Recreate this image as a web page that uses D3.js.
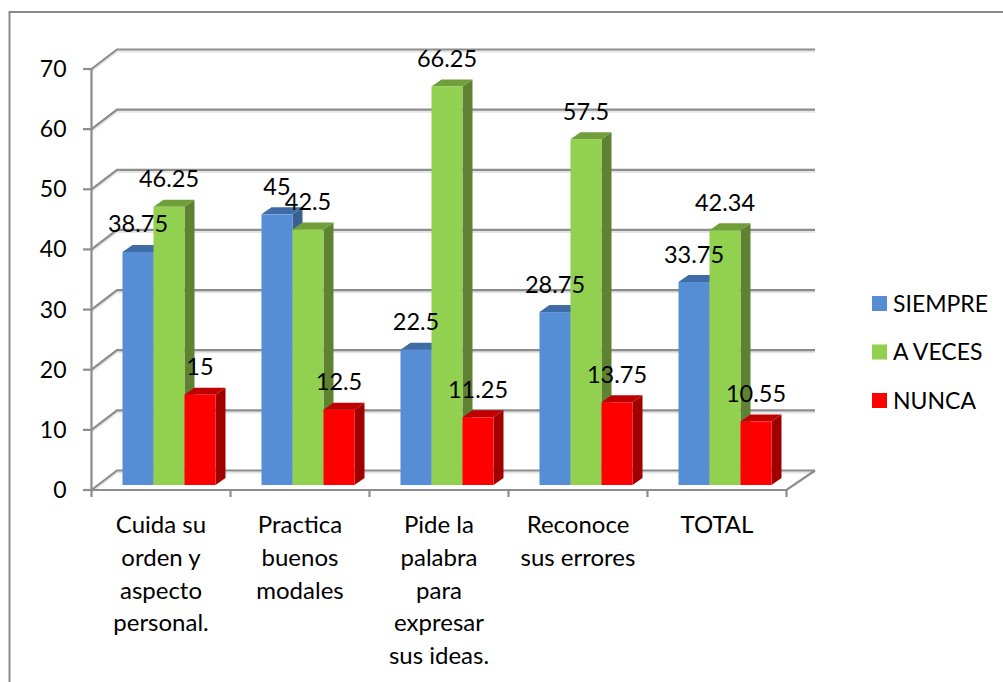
<!DOCTYPE html>
<html><head><meta charset="utf-8">
<script src="https://cdn.jsdelivr.net/npm/d3@7"></script>
<style>html,body{margin:0;padding:0;background:#fff}svg{display:block}text{font-family:Lato,Carlito,sans-serif;fill:#000}</style>
</head><body><svg id="c" width="1003" height="682"></svg>
<script>
const categories=[["Cuida su","orden y","aspecto","personal."],["Practica","buenos","modales"],["Pide la","palabra","para","expresar","sus ideas."],["Reconoce","sus errores"],["TOTAL"]];
const seriesNames=["SIEMPRE","A VECES","NUNCA"];
const siempre=[38.75,45,22.5,28.75,33.75];
const aVeces=[46.25,42.5,66.25,57.5,42.34];
const nunca=[15,12.5,11.25,13.75,10.55];
const yTicks=[0,10,20,30,40,50,60,70];
const front=["#558ED5","#92D050","#FF0000"];
const topc=["#3F6CA6","#6F9E3A","#C00000"];
const side=["#38618F","#5F8232","#A00000"];
const grid="#8C8C8C";

const svg=d3.select("#c");
const x0=d3.scaleBand().domain(d3.range(5)).range([91.5,786.5]).paddingInner(0).paddingOuter(0);
const x1=d3.scaleBand().domain(d3.range(3)).range([0,93]);
const y=d3.scaleLinear().domain([0,70]).range([490,69]);
const wx=25.5, wy=-19.5;   // wall depth
const bx=8, by=-5;         // bar base offset inside the floor
const dx=10, dy=-7;        // bar depth
const barInset=(x0.bandwidth()-93)/2;

svg.append("path").attr("d","M1003,12H9.5V682").attr("fill","none").attr("stroke","#8A8A8A").attr("stroke-width",2);

// shadow + gridlines
const gl=svg.append("g").attr("fill","none").attr("stroke-width",2.2);
yTicks.forEach(t=>{
  const p=`M${91.5},${y(t)}L${91.5+wx},${y(t)+wy}H${786.5+wx+3}`;
  gl.append("path").attr("d",p).attr("stroke","#000").attr("stroke-opacity",.1).attr("transform","translate(0,2)");
  gl.append("path").attr("d",p).attr("stroke",grid);
  gl.append("line").attr("x1",83).attr("x2",91.5).attr("y1",y(t)).attr("y2",y(t)).attr("stroke",grid);
});
// floor front and axes
gl.append("path").attr("d",`M91.5,${y(70)}V${y(0)}H786.5L${786.5+wx+3},${y(0)+wy}`).attr("stroke",grid);
d3.range(6).forEach(i=>{const xp=91.5+i*x0.bandwidth();
  gl.append("line").attr("x1",xp).attr("x2",xp).attr("y1",y(0)).attr("y2",497).attr("stroke",grid);});

// y tick labels
svg.append("g").selectAll("text").data(yTicks).join("text")
 .attr("x",66.5).attr("y",d=>y(d)+8).attr("text-anchor","end").attr("font-size",23).text(d=>d);

const series=[siempre,aVeces,nunca];
const labels=[];
d3.range(5).forEach(i=>{
  const g=svg.append("g");
  series.forEach((s,k)=>{
    const v=s[i];
    const xl=x0(i)+barInset+bx+x1(k), xr=xl+x1.bandwidth();
    const yt=y(v)+by, yb=y(0)+by;
    g.append("path").attr("d",`M${xr},${yt}l${dx},${dy}V${yb+dy}L${xr},${yb}Z`).attr("fill",side[k]);
    g.append("path").attr("d",`M${xl},${yt}l${dx},${dy}H${xr+dx}L${xr},${yt}Z`).attr("fill",topc[k]);
    g.append("rect").attr("x",xl).attr("y",yt).attr("width",x1.bandwidth()).attr("height",yb-yt).attr("fill",front[k]);
    labels.push({x:(xl+xr)/2,y:yt-19.5,t:v});
  });
});
svg.append("g").selectAll("text").data(labels).join("text")
 .attr("x",d=>d.x).attr("y",d=>d.y).attr("text-anchor","middle").attr("font-size",23.5).text(d=>d.t);

// category labels
categories.forEach((lines,i)=>{
  const t=svg.append("text").attr("text-anchor","middle").attr("font-size",24);
  lines.forEach((l,j)=>t.append("tspan").attr("x",x0(i)+x0.bandwidth()/2).attr("y",533+j*32.8).text(l));
});

// legend
const lg=svg.append("g");
seriesNames.forEach((n,k)=>{
  const yy=296+k*48.5;
  lg.append("rect").attr("x",872).attr("y",yy).attr("width",15).attr("height",15).attr("fill",front[k]);
  lg.append("text").attr("x",893).attr("y",yy+15.5).attr("font-size",23).text(n);
});
</script></body></html>
